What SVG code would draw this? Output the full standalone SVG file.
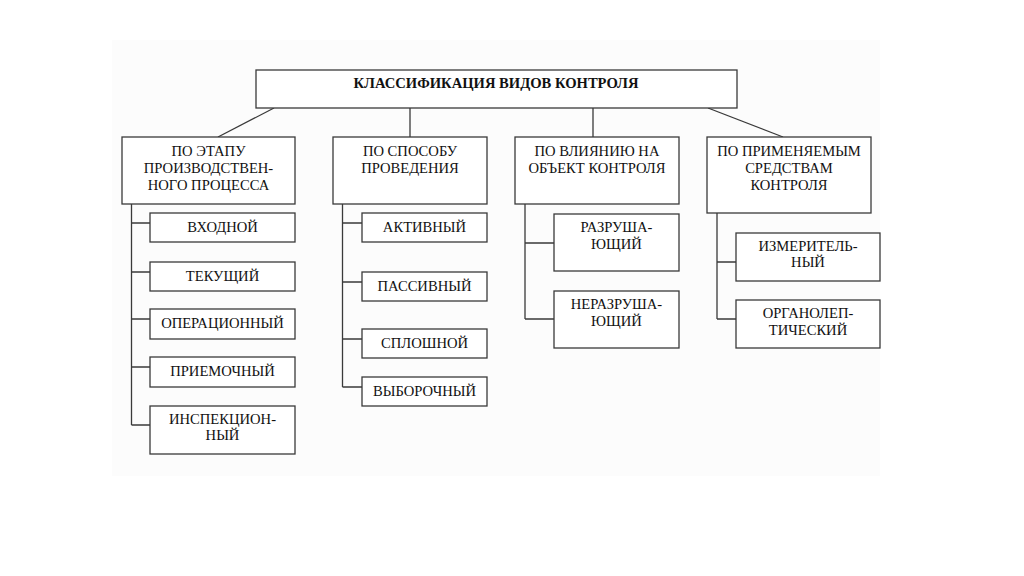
<svg xmlns="http://www.w3.org/2000/svg" width="1024" height="576" viewBox="0 0 1024 576">
<style>
.box{fill:#fff;stroke:#3a3a3a;stroke-width:1.3}
.ln{fill:none;stroke:#3a3a3a;stroke-width:1.3}
text{font-family:"Liberation Serif","Times New Roman",serif;font-size:14.6px;fill:#111;text-anchor:middle}
.title{font-weight:bold;font-size:14.6px}
</style>
<rect x="0" y="0" width="1024" height="576" fill="#fff"/>
<rect x="112" y="40" width="768" height="436" fill="#fcfcfc"/>
<g id="connectors">
<line class="ln" x1="274" y1="108" x2="218" y2="137"/>
<line class="ln" x1="410" y1="108" x2="410" y2="137"/>
<line class="ln" x1="593" y1="108" x2="593" y2="137"/>
<line class="ln" x1="708" y1="108" x2="783" y2="137"/>
<path class="ln" d="M131.5 204V425M131.5 223H150M131.5 272H150M131.5 319H150M131.5 367H150M131.5 425H150"/>
<path class="ln" d="M342.5 204V387M342.5 223H362M342.5 282H362M342.5 339H362M342.5 387H362"/>
<path class="ln" d="M525 204V319M525 243H554M525 319H554"/>
<path class="ln" d="M717 213V319M717 262H736M717 319H736"/>
</g>
<g id="root"><rect class="box" x="256" y="70" width="481" height="38"/><text class="title" x="496" y="88">КЛАССИФИКАЦИЯ ВИДОВ КОНТРОЛЯ</text></g>
<g id="stage"><rect class="box" x="122" y="137" width="173" height="67"/><text x="208.5" y="156">ПО ЭТАПУ</text><text x="208.5" y="173">ПРОИЗВОДСТВЕН-</text><text x="208.5" y="190">НОГО ПРОЦЕССА</text></g>
<g id="method"><rect class="box" x="333" y="137" width="154" height="67"/><text x="410" y="156">ПО СПОСОБУ</text><text x="410" y="173">ПРОВЕДЕНИЯ</text></g>
<g id="impact"><rect class="box" x="515" y="137" width="164" height="67"/><text x="597" y="156">ПО ВЛИЯНИЮ НА</text><text x="597" y="173">ОБЪЕКТ КОНТРОЛЯ</text></g>
<g id="means"><rect class="box" x="707" y="137" width="164" height="76"/><text x="789" y="156">ПО ПРИМЕНЯЕМЫМ</text><text x="789" y="173">СРЕДСТВАМ</text><text x="789" y="190">КОНТРОЛЯ</text></g>
<g id="input"><rect class="box" x="150" y="213" width="145" height="29"/><text x="222.5" y="232">ВХОДНОЙ</text></g>
<g id="current"><rect class="box" x="150" y="262" width="145" height="29"/><text x="222.5" y="281">ТЕКУЩИЙ</text></g>
<g id="operational"><rect class="box" x="150" y="309" width="145" height="30"/><text x="222.5" y="328">ОПЕРАЦИОННЫЙ</text></g>
<g id="acceptance"><rect class="box" x="150" y="357" width="145" height="30"/><text x="222.5" y="376">ПРИЕМОЧНЫЙ</text></g>
<g id="inspection"><rect class="box" x="150" y="406" width="145" height="48"/><text x="222.5" y="424">ИНСПЕКЦИОН-</text><text x="222.5" y="440">НЫЙ</text></g>
<g id="active"><rect class="box" x="362" y="213" width="125" height="29"/><text x="424.5" y="232">АКТИВНЫЙ</text></g>
<g id="passive"><rect class="box" x="362" y="272" width="125" height="29"/><text x="424.5" y="291">ПАССИВНЫЙ</text></g>
<g id="continuous"><rect class="box" x="362" y="329" width="125" height="29"/><text x="424.5" y="348">СПЛОШНОЙ</text></g>
<g id="sampling"><rect class="box" x="362" y="377" width="125" height="29"/><text x="424.5" y="396">ВЫБОРОЧНЫЙ</text></g>
<g id="destructive"><rect class="box" x="554" y="214" width="125" height="57"/><text x="616.5" y="232">РАЗРУША-</text><text x="616.5" y="249">ЮЩИЙ</text></g>
<g id="nondestructive"><rect class="box" x="554" y="291" width="125" height="57"/><text x="616.5" y="309">НЕРАЗРУША-</text><text x="616.5" y="326">ЮЩИЙ</text></g>
<g id="measuring"><rect class="box" x="736" y="233" width="144" height="48"/><text x="808" y="251">ИЗМЕРИТЕЛЬ-</text><text x="808" y="267">НЫЙ</text></g>
<g id="organoleptic"><rect class="box" x="736" y="300" width="144" height="48"/><text x="808" y="318">ОРГАНОЛЕП-</text><text x="808" y="335">ТИЧЕСКИЙ</text></g>
</svg>
